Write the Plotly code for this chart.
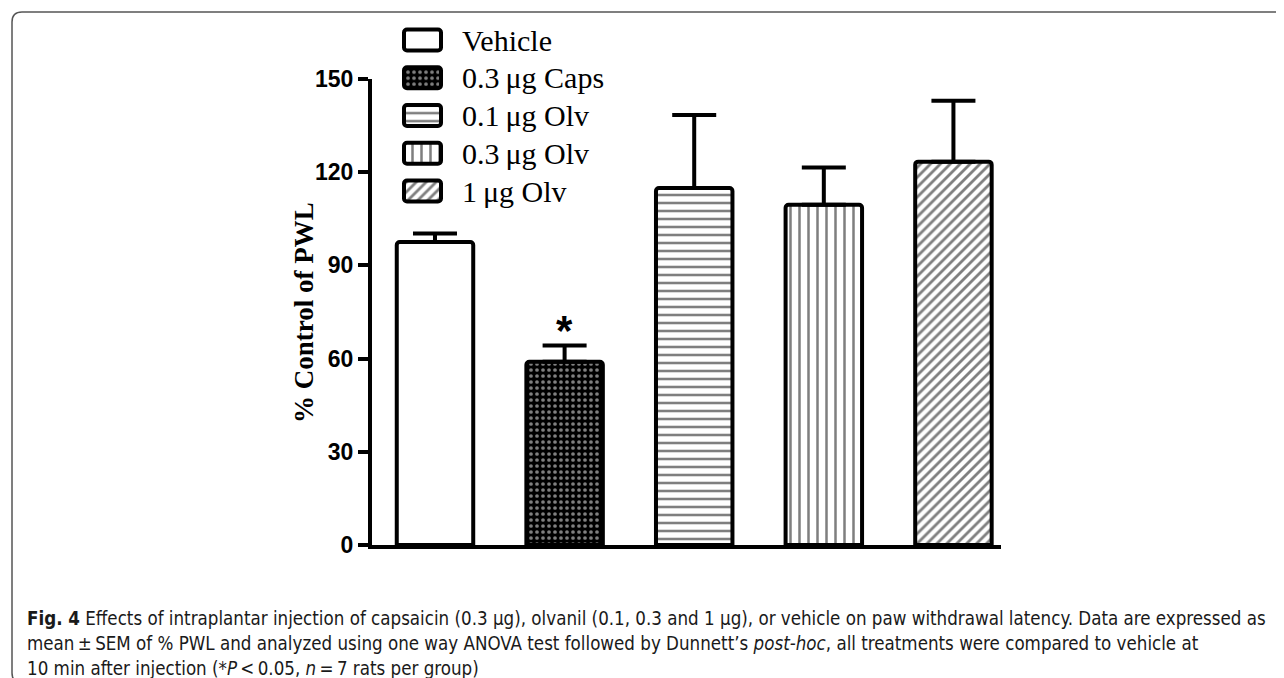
import plotly.graph_objects as go

# ---- data ----
categories = ["Vehicle", "0.3\u2009\u03bcg Caps", "0.1\u2009\u03bcg Olv", "0.3\u2009\u03bcg Olv", "1\u2009\u03bcg Olv"]
means = [97.5, 59.0, 114.9, 109.5, 123.4]
sems = [2.8, 5.2, 23.5, 12.0, 19.6]
yticks = [0, 30, 60, 90, 120, 150]
significant = [False, True, False, False, False]

# ---- styles ----
pat_shape = ["", ".", "-", "|", "/"]
pat_fg = ["black", "white", "black", "black", "black"]
pat_bg = ["white", "black", "white", "white", "white"]
pat_size = [8, 6, 8, 9, 7]
pat_solid = [0.3, 0.3, 0.32, 0.28, 0.4]

W, H = 1284, 678
def px(x):
    return x / W
def py(y):
    return 1 - y / H

fig = go.Figure()

for i, name in enumerate(categories):
    marker = dict(
        color=pat_bg[i],
        line=dict(color="black", width=4),
        cornerradius=3,
    )
    if pat_shape[i]:
        marker["pattern"] = dict(shape=pat_shape[i], fgcolor=pat_fg[i], bgcolor=pat_bg[i],
                                 size=pat_size[i], solidity=pat_solid[i])
    fig.add_trace(go.Bar(
        x=[name], y=[means[i]], width=0.59, marker=marker,
        error_y=dict(type="data", symmetric=False, array=[sems[i]], arrayminus=[0],
                     thickness=4, width=22, color="black"),
        showlegend=False, xaxis="x", yaxis="y",
    ))
    # legend swatch on a hidden axis pair
    fig.add_trace(go.Bar(
        y=[i], x=[1], base=0, orientation="h", width=0.56, marker=marker,
        showlegend=False, xaxis="x2", yaxis="y2", hoverinfo="skip",
    ))

annotations = []
for i, name in enumerate(categories):
    annotations.append(dict(
        x=px(452), xref="paper", y=i, yref="y2", text=name, showarrow=False,
        xanchor="left", yanchor="middle",
        font=dict(family="Liberation Serif, Times New Roman, serif", size=30, color="black"),
    ))

for i, sig in enumerate(significant):
    if sig:
        annotations.append(dict(
            x=categories[i], xref="x", y=means[i] + sems[i], yref="y", text="*",
            showarrow=False, xanchor="center", yanchor="bottom", yshift=-10,
            font=dict(family="Liberation Sans, Arial, sans-serif", size=42, color="black", weight="bold"),
        ))

# y-axis title
annotations.append(dict(
    x=px(296), xref="paper", y=py(305), yref="paper", text="% Control of PWL",
    textangle=-90, showarrow=False, xanchor="center", yanchor="middle",
    font=dict(family="Liberation Serif, Times New Roman, serif", size=27, color="black", weight="bold"),
))

cap_font = dict(family="Liberation Sans Narrow, DejaVu Sans Condensed, Arial Narrow, sans-serif",
                size=18.6, color="#1a1a1a")
caption_lines = [
    "<b>Fig. 4</b> Effects of intraplantar injection of capsaicin (0.3 \u03bcg), olvanil (0.1, 0.3 and 1 \u03bcg), or vehicle on paw withdrawal latency. Data are expressed as",
    "mean\u2009\u00b1\u2009SEM of % PWL and analyzed using one way ANOVA test followed by Dunnett\u2019s <i>post-hoc</i>, all treatments were compared to vehicle at",
    "10 min after injection (*<i>P</i>\u2009<\u20090.05, <i>n</i>\u2009=\u20097 rats per group)",
]
for line, yy in zip(caption_lines, [610, 635, 660]):
    annotations.append(dict(
        x=px(17), xref="paper", y=py(yy), yref="paper", text=line, showarrow=False,
        xanchor="left", yanchor="middle", font=cap_font,
    ))

# frame
x0, x1, y0, y1, r = 4, 1279, 4, 675, 10
pts = [("M", x0 + r, y0), ("L", x1 - r, y0), ("Q", x1, y0, x1, y0 + r), ("L", x1, y1 - r),
       ("Q", x1, y1, x1 - r, y1), ("L", x0 + r, y1), ("Q", x0, y1, x0, y1 - r),
       ("L", x0, y0 + r), ("Q", x0, y0, x0 + r, y0)]
path = ""
for p in pts:
    coords = p[1:]
    s = [f"{px(coords[j]):.5f},{py(coords[j + 1]):.5f}" for j in range(0, len(coords), 2)]
    path += p[0] + " " + " ".join(s) + " "
path += "Z"

fig.update_layout(
    width=W, height=H,
    margin=dict(l=0, r=0, t=0, b=0),
    paper_bgcolor="white", plot_bgcolor="rgba(0,0,0,0)",
    barmode="overlay",
    xaxis=dict(domain=[px(364), px(993)], range=[-0.486, 4.367], showline=True,
               linewidth=4, linecolor="black", showticklabels=False, ticks="",
               showgrid=False, zeroline=False, fixedrange=True),
    yaxis=dict(domain=[py(537), py(71)], range=[0, 150], tickvals=yticks,
               showline=True, linewidth=4, linecolor="black", ticks="outside",
               ticklen=10, tickwidth=4, tickcolor="black", showgrid=False, zeroline=False,
               tickfont=dict(family="Liberation Sans, Arial, sans-serif", size=23,
                             color="black", weight="bold"),
               automargin=False),
    xaxis2=dict(domain=[px(391), px(438)], range=[-0.135, 1.135], visible=False,
                anchor="y2", fixedrange=True),
    yaxis2=dict(domain=[py(32 + 4.5 * 37.75), py(32 - 0.5 * 37.75)], range=[4.5, -0.5],
                visible=False, anchor="x2", fixedrange=True),
    annotations=annotations,
    shapes=[dict(type="path", path=path, xref="paper", yref="paper",
                 line=dict(color="#555555", width=1.5))],
)

fig.write_html("out.html")
